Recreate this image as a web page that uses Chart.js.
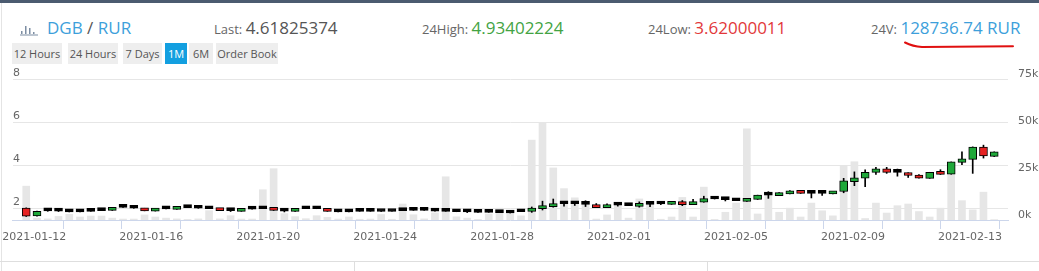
<!DOCTYPE html>
<html>
<head>
<meta charset="utf-8">
<title>DGB / RUR</title>
<script src="https://cdn.jsdelivr.net/npm/chart.js@4"></script>
<style>
  html, body { margin: 0; padding: 0; background: #fff; }
  body { width: 1039px; height: 271px; position: relative; overflow: hidden; font-family: 'Open Sans', sans-serif; }
  #topbar { position: absolute; left: 0; top: 0; width: 1039px; height: 3px; background: #4b5b70; }
  #leftline { position: absolute; left: 1px; top: 3px; width: 1px; height: 268px; background: #e4e4e4; }
  .stat { position: absolute; top: 18px; line-height: 20px; font-size: 17px; white-space: nowrap; color: #555; }
  .lbl { font-size: 13px; color: #666; }
  .blue { color: #3d9fdb; }
  .green { color: #43a343; }
  .red { color: #e2383a; }
  .tab { position: absolute; top: 43px; height: 21px; line-height: 21px; font-size: 11px; color: #555;
         background: #eeeeee; text-align: center; white-space: nowrap; }
  .tab.active { background: #139fe0; color: #fff; }
  #chartbox { position: absolute; left: 0; top: 66px; width: 1039px; height: 180px; }
  #bottomline { position: absolute; left: 0; top: 261px; width: 1039px; height: 1px; background: #dedede; }
  .vtick { position: absolute; top: 261px; width: 1px; height: 10px; background: #dedede; }
</style>
</head>
<body>
<div id="topbar"></div>
<div id="leftline"></div>

<svg style="position:absolute;left:0;top:0" width="1039" height="60">
  <g fill="#7d8ea3">
    <rect x="21" y="31" width="1.5" height="3"></rect>
    <rect x="25" y="26" width="1.5" height="8"></rect>
    <rect x="29" y="28" width="1.5" height="6"></rect>
    <rect x="33" y="32" width="1.5" height="2"></rect>
    <rect x="20" y="34.5" width="18" height="1"></rect>
  </g>
  <path d="M905 42.5 C 910 45, 914 46.5, 922 47 L 1013 46.3" fill="none" stroke="#e01010" stroke-width="2" stroke-linecap="round"></path>
</svg>

<div class="stat" style="left:47px"><span class="blue">DGB</span> / <span class="blue">RUR</span></div>
<div class="stat" style="left:214px"><span class="lbl">Last: </span>4.61825374</div>
<div class="stat" style="left:422px"><span class="lbl">24High: </span><span class="green">4.93402224</span></div>
<div class="stat" style="left:648px"><span class="lbl">24Low: </span><span class="red">3.62000011</span></div>
<div class="stat" style="left:871px"><span class="lbl">24V: </span><span class="blue">128736.74 RUR</span></div>

<div class="tab" style="left:12px;width:50px">12 Hours</div>
<div class="tab" style="left:68px;width:50px">24 Hours</div>
<div class="tab" style="left:123px;width:39px">7 Days</div>
<div class="tab active" style="left:165px;width:22px">1M</div>
<div class="tab" style="left:189px;width:24px">6M</div>
<div class="tab" style="left:216px;width:62px">Order Book</div>

<div id="chartbox"><canvas id="chart" width="1039" height="180"></canvas></div>
<div id="bottomline"></div>
<div class="vtick" style="left:354px"></div>
<div class="vtick" style="left:707px"></div>

<script>
// ========== Data ==========

// candle times, in days counted from 2021-01-12 00:00
const candleStartDay = -0.273;
const candleStepDay = 0.3678;

const opens = [
  2.01, 1.64, 1.88, 1.87, 1.83, 1.83, 1.86, 1.89, 1.90, 2.04,
  2.00, 2.00, 1.87, 1.97, 1.95, 2.03, 2.00, 1.98, 2.00, 1.89,
  1.86, 1.96, 1.98, 2.00, 1.87, 1.86, 1.98, 1.98, 1.98, 1.83,
  1.83, 1.86, 1.86, 1.85, 1.85, 1.89, 1.90, 1.90, 1.87, 1.86,
  1.84, 1.83, 1.81, 1.81, 1.80, 1.78, 1.84, 1.86, 1.98, 2.08,
  2.21, 2.21, 2.18, 2.15, 2.03, 2.15, 2.12, 2.09, 2.18, 2.20,
  2.18, 2.30, 2.17, 2.28, 2.43, 2.40, 2.35, 2.32, 2.41, 2.61,
  2.59, 2.67, 2.79, 2.69, 2.69, 2.67, 2.78, 3.24, 3.40, 3.67,
  3.83, 3.67, 3.61, 3.53, 3.39, 3.69, 3.58, 4.13, 4.27, 4.84,
  4.41
];
const highs = [
  2.02, 1.87, 1.90, 1.89, 1.83, 1.83, 1.86, 1.89, 2.03, 2.04,
  2.00, 2.00, 1.97, 1.97, 2.09, 2.03, 2.00, 1.98, 2.00, 1.93,
  1.96, 1.96, 1.98, 2.00, 1.91, 1.96, 1.98, 1.98, 1.98, 1.83,
  1.86, 1.86, 1.86, 1.87, 1.85, 1.89, 1.90, 1.90, 1.87, 1.86,
  1.84, 1.87, 1.81, 1.81, 1.80, 1.78, 1.84, 2.06, 2.33, 2.43,
  2.32, 2.30, 2.35, 2.22, 2.21, 2.21, 2.12, 2.30, 2.26, 2.29,
  2.29, 2.36, 2.42, 2.56, 2.46, 2.49, 2.35, 2.44, 2.61, 2.77,
  2.73, 2.82, 2.79, 2.77, 2.75, 2.79, 3.39, 3.69, 3.79, 3.90,
  3.90, 3.82, 3.65, 3.56, 3.67, 3.79, 4.15, 4.62, 4.85, 4.93,
  4.62
];
const lows = [
  1.62, 1.63, 1.86, 1.85, 1.83, 1.83, 1.86, 1.89, 1.90, 2.04,
  2.00, 1.88, 1.87, 1.97, 1.95, 2.03, 2.00, 1.98, 1.89, 1.85,
  1.86, 1.96, 1.98, 1.90, 1.83, 1.86, 1.98, 1.98, 1.86, 1.83,
  1.83, 1.86, 1.86, 1.85, 1.85, 1.89, 1.90, 1.90, 1.87, 1.86,
  1.84, 1.80, 1.81, 1.81, 1.80, 1.78, 1.84, 1.81, 1.92, 2.05,
  2.10, 2.13, 2.08, 2.03, 2.03, 2.10, 2.12, 2.05, 2.08, 2.17,
  2.18, 2.12, 2.17, 2.28, 2.43, 2.34, 2.35, 2.32, 2.41, 2.46,
  2.59, 2.67, 2.69, 2.48, 2.60, 2.67, 2.72, 3.05, 3.00, 3.57,
  3.62, 3.49, 3.43, 3.40, 3.39, 3.57, 3.58, 4.02, 3.62, 4.33,
  4.40
];
const closes = [
  1.63, 1.86, 1.88, 1.87, 1.83, 1.83, 1.86, 1.89, 2.03, 2.04,
  2.00, 1.88, 1.97, 1.97, 2.07, 2.03, 2.00, 1.98, 1.89, 1.89,
  1.96, 1.96, 1.98, 1.90, 1.87, 1.96, 1.98, 1.98, 1.86, 1.83,
  1.83, 1.86, 1.86, 1.85, 1.85, 1.89, 1.90, 1.90, 1.87, 1.86,
  1.84, 1.83, 1.81, 1.81, 1.80, 1.78, 1.84, 2.01, 2.12, 2.21,
  2.21, 2.21, 2.18, 2.03, 2.14, 2.15, 2.12, 2.21, 2.18, 2.20,
  2.29, 2.17, 2.30, 2.45, 2.43, 2.40, 2.35, 2.44, 2.61, 2.61,
  2.70, 2.79, 2.69, 2.69, 2.69, 2.79, 3.27, 3.41, 3.67, 3.83,
  3.67, 3.67, 3.52, 3.40, 3.67, 3.57, 4.15, 4.29, 4.84, 4.43,
  4.62
];
// volume in thousands of RUR
const volumes = [
  18.0, 1.0, 0.6, 1.9, 3.0, 1.6, 2.1, 2.1, 1.0, 0.5,
  0.5, 2.7, 1.6, 1.0, 0.6, 0.3, 0.6, 5.0, 0.6, 2.3,
  0.5, 0.5, 16.1, 27.3, 3.4, 1.8, 0.7, 2.3, 1.4, 0.5,
  1.6, 0.4, 0.5, 2.9, 0.4, 8.5, 2.8, 0.6, 3.8, 23.0,
  1.7, 1.0, 0.3, 3.2, 6.3, 3.8, 2.2, 42.5, 51.4, 27.7,
  16.7, 11.8, 9.8, 0.5, 2.7, 9.0, 1.0, 11.2, 8.5, 0.4,
  1.6, 12.0, 1.6, 17.5, 0.3, 4.1, 9.0, 48.5, 3.2, 13.2,
  4.1, 6.3, 1.6, 9.0, 4.9, 2.2, 29.0, 31.0, 0.8, 9.0,
  3.7, 7.6, 8.5, 4.5, 1.6, 6.3, 30.0, 10.3, 5.4, 14.8,
  0.2
];

const xTickDays = [0, 2, 4, 6, 8, 10, 12, 14, 16, 18, 20, 22, 24, 26, 28, 30, 32];
const xTickLabels = [
  '2021-01-12', '', '2021-01-16', '', '2021-01-20', '', '2021-01-24', '', '2021-01-28',
  '', '2021-02-01', '', '2021-02-05', '', '2021-02-09', '', '2021-02-13'
];
const priceTicks = [2, 4, 6, 8];
const volumeTicks = [0, 25, 50, 75];

// ========== Chart ==========

const GREEN = '#1fa83a';
const RED = '#e62222';
const axisFont = { family: 'DejaVu Sans', size: 11 };

const times = opens.map((o, i) => candleStartDay + i * candleStepDay);
const bodyData = times.map((t, i) => ({ x: t, y: [opens[i], closes[i]] }));
const wickData = times.map((t, i) => ({ x: t, y: [lows[i], highs[i]] }));
const volumeData = times.map((t, i) => ({ x: t, y: volumes[i] }));
const bodyColors = opens.map((o, i) => {
  if (closes[i] > o) return GREEN;
  if (closes[i] < o) return RED;
  return '#000';
});

new Chart(document.getElementById('chart'), {
  type: 'bar',
  data: {
    datasets: [{
      label: 'Body',
      data: bodyData,
      yAxisID: 'y',
      backgroundColor: bodyColors,
      borderColor: '#000',
      borderWidth: 1,
      borderSkipped: false,
      barThickness: 8,
      minBarLength: 3,
      grouped: false,
    }, {
      label: 'Wick',
      data: wickData,
      yAxisID: 'y',
      backgroundColor: '#000',
      borderWidth: 0,
      barThickness: 1,
      grouped: false,
    }, {
      label: 'Volume',
      data: volumeData,
      yAxisID: 'yv',
      backgroundColor: '#e6e6e6',
      borderWidth: 0,
      barThickness: 7,
      grouped: false,
    }],
  },
  options: {
    responsive: false,
    devicePixelRatio: 1,
    animation: false,
    layout: { padding: { left: 12, top: 13, right: 0, bottom: 0 } },
    plugins: { legend: { display: false }, tooltip: { enabled: false } },
    scales: {
      x: {
        type: 'linear',
        min: -0.728,
        max: 33.30,
        offset: false,
        grid: { drawOnChartArea: false, drawTicks: true, tickLength: 9, color: '#ccd6eb' },
        border: { display: true, color: '#ccd6eb' },
        ticks: {
          autoSkip: false, maxRotation: 0, padding: 2, color: '#666', font: axisFont,
          callback: (v, i) => xTickLabels[i],
        },
        afterBuildTicks: s => { s.ticks = xTickDays.map(v => ({ value: v })); },
        afterFit: s => { s.height = 26; },
      },
      y: {
        position: 'left',
        min: 1.456,
        max: 8,
        grid: { color: '#e6e6e6', drawTicks: false },
        border: { display: false },
        ticks: { mirror: true, padding: 0, labelOffset: -6, color: '#666', font: axisFont },
        afterBuildTicks: s => { s.ticks = priceTicks.map(v => ({ value: v })); },
        afterFit: s => { s.width = 0; },
      },
      yv: {
        position: 'right',
        min: 0,
        max: 75,
        grid: { display: false },
        border: { display: false },
        ticks: { padding: 2, labelOffset: -5, color: '#666', font: axisFont, callback: v => v + 'k' },
        afterBuildTicks: s => { s.ticks = volumeTicks.map(v => ({ value: v })); },
        afterFit: s => { s.width = 31; },
      },
    },
  },
});
</script>
</body>
</html>
